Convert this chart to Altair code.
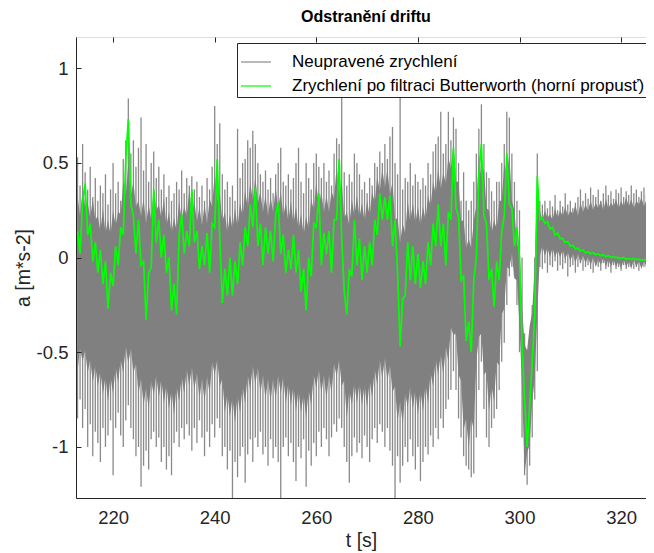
import altair as alt
import pandas as pd

# sample grid: first sample time and step of the half-second series
T0 = 213.0
HALF_STEP = 0.5

# Butterworth high-pass filtered acceleration (green), every 0.5 s from 213.0 s
green = [
    0.14, 0.02, 0.30, 0.39, 0.12, 0.18, -0.02, 0.08, -0.08, 0.04,
    -0.14, -0.02, -0.27, -0.08, -0.15, 0.06, -0.04, 0.16, 0.12, 0.52,
    0.73, 0.28, 0.22, 0.02, 0.20, -0.04, -0.02, -0.33, -0.08, -0.05,
    0.36, 0.08, 0.20, 0.00, 0.12, -0.08, 0.00, -0.28, -0.14, -0.30,
    0.12, 0.23, 0.02, 0.14, 0.06, 0.36, 0.08, 0.14, -0.06, 0.06,
    -0.04, 0.13, -0.08, 0.18, 0.16, 0.52, 0.10, -0.24, -0.06, -0.20,
    0.00, -0.20, -0.02, -0.14, 0.08, -0.04, 0.16, 0.06, 0.28, 0.16,
    0.37, 0.06, 0.18, -0.04, 0.16, 0.02, 0.14, -0.02, 0.22, 0.29,
    0.02, 0.12, -0.08, 0.04, -0.06, 0.12, -0.08, 0.04, -0.18, -0.06,
    -0.28, 0.00, -0.10, 0.18, 0.16, 0.34, -0.04, 0.13, 0.02, 0.14,
    -0.08, 0.20, 0.20, 0.52, 0.10, -0.18, -0.30, -0.06, -0.10, 0.20,
    -0.04, 0.10, -0.12, 0.06, -0.08, 0.08, -0.04, 0.20, 0.12, 0.34,
    0.20, 0.32, 0.20, 0.33, 0.06, 0.20, -0.08, -0.47, -0.22, -0.20,
    0.08, -0.12, 0.06, -0.14, 0.02, -0.16, -0.02, -0.14, 0.08, -0.04,
    0.18, 0.06, 0.28, 0.06, 0.18, -0.04, 0.24, 0.20, 0.58, 0.26,
    0.22, -0.12, -0.10, -0.44, -0.34, -0.50, -0.12, 0.00, 0.44, 0.60,
    0.22, 0.18, -0.12, -0.06, -0.26, -0.02, -0.12, 0.14, 0.22, 0.55,
    0.28, 0.26, 0.06, 0.16, 0.00, -0.45, -0.75, -1.00, -0.78, -0.55,
    -0.30, 0.43, 0.20, 0.21, 0.18, 0.19, 0.15, 0.16, 0.12, 0.13,
    0.10, 0.10, 0.08, 0.085, 0.06, 0.065, 0.045, 0.05, 0.035, 0.04,
    0.025, 0.03, 0.02, 0.025, 0.015, 0.02, 0.01, 0.015, 0.005, 0.01,
    0.0, 0.005, 0.0, 0.0, -0.005, 0.0, -0.01, -0.005, -0.01, -0.005,
    -0.01, -0.01, -0.015, -0.01, -0.015,
]

# raw acceleration: highest and lowest excursion within each 0.5 s
raw_hi = [
    0.53, 0.38, 0.60, 0.45, 0.36, 0.48, 0.32, 0.42, 0.30, 0.38,
    0.34, 0.44, 0.28, 0.36, 0.50, 0.34, 0.40, 0.30, 0.52, 0.62,
    0.84, 0.55, 0.62, 0.48, 0.58, 0.74, 0.46, 0.60, 0.40, 0.50,
    0.56, 0.42, 0.48, 0.36, 0.44, 0.32, 0.38, 0.30, 0.34, 0.40,
    0.36, 0.46, 0.34, 0.42, 0.38, 0.43, 0.36, 0.40, 0.32, 0.38,
    0.30, 0.42, 0.36, 0.48, 0.80, 0.60, 0.71, 0.44, 0.36, 0.40,
    0.32, 0.38, 0.30, 0.68, 0.42, 0.50, 0.52, 0.62, 0.58, 0.67,
    0.60, 0.50, 0.44, 0.40, 0.46, 0.36, 0.42, 0.34, 0.44, 0.50,
    0.58, 0.40, 0.38, 0.44, 0.36, 0.42, 0.50, 0.58, 0.40, 0.34,
    0.50, 0.42, 0.36, 0.50, 0.55, 0.48, 0.42, 0.50, 0.40, 0.46,
    0.38, 0.55, 0.63, 0.60, 1.05, 0.45, 0.38, 0.44, 0.40, 0.55,
    0.50, 0.44, 0.36, 0.40, 0.34, 0.42, 0.38, 0.50, 0.48, 0.56,
    0.50, 0.60, 0.52, 0.64, 0.69, 0.50, 0.44, 1.05, 0.36, 0.42,
    0.40, 0.50, 0.38, 0.44, 0.40, 0.36, 0.42, 0.38, 0.50, 0.44,
    0.56, 0.60, 0.64, 0.77, 0.55, 0.60, 0.77, 0.62, 0.74, 0.68,
    0.50, 0.30, 0.45, 0.30, 0.25, 0.30, 0.40, 0.55, 0.68, 0.81,
    0.60, 0.45, 0.42, 0.35, 0.30, 0.40, 0.40, 0.50, 0.60, 0.77,
    0.74, 0.55, 0.40, 0.30, 0.25, 0.00, -0.40, -0.60, -0.45, -0.25,
    0.00, 0.55, 0.30, 0.28, 0.30, 0.26, 0.30, 0.27, 0.33, 0.25,
    0.30, 0.27, 0.34, 0.28, 0.30, 0.26, 0.29, 0.32, 0.36, 0.30,
    0.34, 0.31, 0.37, 0.33, 0.32, 0.36, 0.30, 0.34, 0.38, 0.33,
    0.35, 0.31, 0.36, 0.34, 0.37, 0.32, 0.35, 0.33, 0.38, 0.34,
    0.36, 0.32, 0.35, 0.37, 0.33,
]
raw_lo = [
    -0.85, -0.75, -0.90, -0.80, -1.00, -0.88, -1.05, -0.92, -0.98, -1.08,
    -0.90, -1.00, -0.94, -0.86, -1.15, -0.90, -0.82, -0.94, -1.00, -0.86,
    -0.78, -0.90, -0.96, -1.05, -1.00, -1.21, -1.10, -1.02, -1.12, -0.96,
    -0.92, -1.00, -0.95, -1.08, -1.00, -1.12, -1.05, -1.15, -0.98, -0.92,
    -1.00, -0.90, -0.96, -0.88, -0.94, -1.02, -0.90, -0.98, -0.86, -0.95,
    -1.05, -0.92, -1.00, -0.88, -0.95, -0.85, -0.90, -1.05, -1.00, -1.12,
    -1.02, -1.30, -1.08, -1.16, -1.05, -1.00, -1.19, -1.04, -0.96, -1.08,
    -0.95, -1.00, -0.92, -1.04, -1.00, -1.10, -0.96, -1.06, -1.00, -1.08,
    -1.30, -1.00, -0.95, -1.05, -0.98, -1.08, -1.18, -1.00, -1.06, -0.96,
    -1.21, -1.02, -1.10, -0.98, -1.05, -0.92, -1.00, -0.90, -0.96, -1.05,
    -0.95, -0.88, -0.92, -0.85, -0.90, -1.00, -1.08, -1.19, -1.05, -0.95,
    -1.03, -0.98, -1.06, -0.94, -1.00, -1.08, -0.96, -0.90, -0.98, -0.88,
    -0.92, -1.00, -0.90, -1.02, -1.10, -1.30, -1.05, -1.19, -1.10, -1.00,
    -1.08, -0.96, -1.05, -1.12, -1.00, -1.18, -1.08, -1.00, -1.04, -0.94,
    -1.00, -0.90, -0.96, -0.85, -0.90, -0.80, -0.75, -0.70, -0.60, -0.70,
    -0.85, -0.95, -1.05, -1.10, -1.12, -1.16, -1.14, -0.95, -0.70, -0.55,
    -0.80, -0.95, -1.00, -0.90, -0.85, -0.80, -0.70, -0.55, -0.45, -0.25,
    -0.10, -0.05, -0.10, -0.25, -0.50, -0.95, -1.15, -1.20, -1.10, -0.95,
    -0.75, -0.60, -0.05, -0.06, -0.03, -0.08, -0.04, -0.05, -0.02, -0.07,
    -0.04, -0.06, -0.03, -0.10, -0.05, -0.04, -0.08, -0.05, -0.03, -0.07,
    -0.05, -0.04, -0.06, -0.08, -0.04, -0.05, -0.07, -0.03, -0.06, -0.05,
    -0.08, -0.04, -0.06, -0.05, -0.07, -0.04, -0.06, -0.05, -0.03, -0.06,
    -0.05, -0.07, -0.04, -0.05, -0.06,
]

# raw acceleration: dense core of the trace, every 0.5 s from 213.0 s
core_hi = [
    0.33, 0.22, 0.36, 0.27, 0.29, 0.21, 0.31, 0.20, 0.22, 0.14,
    0.26, 0.13, 0.20, 0.12, 0.25, 0.17, 0.24, 0.23, 0.40, 0.33,
    0.50, 0.33, 0.40, 0.27, 0.30, 0.22, 0.31, 0.18, 0.28, 0.20,
    0.37, 0.25, 0.28, 0.21, 0.31, 0.17, 0.24, 0.13, 0.21, 0.14,
    0.30, 0.20, 0.27, 0.22, 0.36, 0.23, 0.30, 0.19, 0.27, 0.17,
    0.28, 0.18, 0.31, 0.27, 0.45, 0.30, 0.34, 0.19, 0.24, 0.13,
    0.23, 0.15, 0.26, 0.16, 0.29, 0.22, 0.36, 0.26, 0.40, 0.30,
    0.43, 0.29, 0.35, 0.24, 0.33, 0.22, 0.32, 0.24, 0.37, 0.26,
    0.35, 0.22, 0.29, 0.19, 0.30, 0.18, 0.27, 0.15, 0.23, 0.12,
    0.22, 0.15, 0.31, 0.25, 0.40, 0.27, 0.35, 0.24, 0.33, 0.24,
    0.35, 0.31, 0.48, 0.33, 0.40, 0.21, 0.24, 0.17, 0.31, 0.22,
    0.33, 0.21, 0.29, 0.19, 0.30, 0.22, 0.35, 0.29, 0.43, 0.35,
    0.47, 0.37, 0.47, 0.33, 0.40, 0.20, 0.21, 0.08, 0.18, 0.13,
    0.30, 0.19, 0.29, 0.18, 0.27, 0.17, 0.27, 0.20, 0.33, 0.27,
    0.40, 0.34, 0.47, 0.36, 0.45, 0.39, 0.53, 0.47, 0.60, 0.40,
    0.40, 0.19, 0.20, 0.05, 0.10, 0.05, 0.20, 0.27, 0.55, 0.42,
    0.47, 0.26, 0.25, 0.13, 0.20, 0.15, 0.30, 0.30, 0.50, 0.43,
    0.55, 0.30, 0.25, 0.07, 0.04, -0.25, -0.46, -0.49, -0.36, -0.29,
    -0.03, 0.40, 0.25, 0.20, 0.25, 0.21, 0.23, 0.20, 0.26, 0.21,
    0.25, 0.22, 0.27, 0.22, 0.25, 0.23, 0.28, 0.22, 0.29, 0.24,
    0.28, 0.25, 0.30, 0.25, 0.29, 0.26, 0.30, 0.25, 0.31, 0.26,
    0.29, 0.27, 0.31, 0.26, 0.30, 0.27, 0.32, 0.27, 0.31, 0.26,
    0.30, 0.28, 0.32, 0.27, 0.31,
]
core_lo = [
    -0.60, -0.48, -0.55, -0.49, -0.61, -0.54, -0.66, -0.57, -0.68, -0.60,
    -0.72, -0.63, -0.76, -0.63, -0.72, -0.58, -0.66, -0.54, -0.61, -0.47,
    -0.56, -0.48, -0.61, -0.56, -0.72, -0.64, -0.78, -0.69, -0.80, -0.65,
    -0.73, -0.62, -0.74, -0.64, -0.77, -0.67, -0.80, -0.70, -0.83, -0.68,
    -0.76, -0.63, -0.72, -0.59, -0.68, -0.58, -0.70, -0.61, -0.75, -0.64,
    -0.76, -0.63, -0.72, -0.55, -0.62, -0.54, -0.68, -0.64, -0.82, -0.72,
    -0.84, -0.74, -0.87, -0.73, -0.82, -0.68, -0.77, -0.62, -0.70, -0.57,
    -0.67, -0.58, -0.72, -0.62, -0.75, -0.64, -0.76, -0.64, -0.75, -0.62,
    -0.72, -0.63, -0.77, -0.66, -0.78, -0.68, -0.81, -0.70, -0.82, -0.72,
    -0.85, -0.70, -0.78, -0.62, -0.69, -0.59, -0.72, -0.62, -0.75, -0.62,
    -0.72, -0.56, -0.63, -0.54, -0.68, -0.65, -0.85, -0.70, -0.78, -0.66,
    -0.77, -0.66, -0.78, -0.67, -0.79, -0.65, -0.74, -0.59, -0.67, -0.54,
    -0.64, -0.53, -0.65, -0.57, -0.71, -0.68, -0.87, -0.76, -0.88, -0.72,
    -0.79, -0.68, -0.80, -0.70, -0.83, -0.70, -0.81, -0.67, -0.77, -0.61,
    -0.68, -0.54, -0.62, -0.51, -0.62, -0.47, -0.55, -0.37, -0.41, -0.40,
    -0.62, -0.65, -0.91, -0.85, -1.01, -0.85, -0.91, -0.55, -0.42, -0.40,
    -0.62, -0.60, -0.81, -0.68, -0.76, -0.55, -0.57, -0.30, -0.27, -0.05,
    -0.06, 0.02, -0.11, -0.12, -0.36, -0.68, -1.14, -1.03, -0.99, -0.76,
    -0.64, -0.30, 0.01, 0.06, 0.01, 0.05, 0.00, 0.05, 0.00, 0.04,
    0.00, 0.04, -0.01, 0.03, -0.02, 0.02, -0.03, 0.02, -0.03, 0.01,
    -0.03, 0.00, -0.04, 0.00, -0.05, -0.01, -0.04, 0.00, -0.05, -0.01,
    -0.05, -0.01, -0.05, -0.02, -0.06, -0.01, -0.05, -0.02, -0.06, -0.01,
    -0.05, -0.02, -0.06, -0.02, -0.05,
]

x_ticks = [220, 240, 260, 280, 300, 320]
y_ticks = [-1, -0.5, 0, 0.5, 1]
x_domain = [212.7, 324.9]
y_domain = [-1.27, 1.165]

RAW = "Neupravené zrychlení"
FILT = "Zrychlení po filtraci Butterworth (horní propusť)"
RAW_COLOR = "#8a8a8a"
FILT_COLOR = "#00ff00"

t_half = [T0 + HALF_STEP * i for i in range(len(green))]

raw_df = pd.DataFrame({"t": t_half, "lo": raw_lo, "hi": raw_hi, "s": RAW})
core_df = pd.DataFrame({"t": t_half, "lo": core_lo, "hi": core_hi})
filt_df = pd.DataFrame({"t": t_half, "a": green, "s": FILT})

FONT = "Liberation Sans"
INK = "#262626"

xscale = alt.Scale(domain=x_domain, nice=False, zero=False)
yscale = alt.Scale(domain=y_domain, nice=False, zero=False)

x_axis = alt.Axis(
    values=x_ticks, title="t [s]", labelExpr="datum.value + ''",
    grid=True, gridDash=[5, 3000], gridColor=INK, gridOpacity=1, gridWidth=1,
    tickSize=0, domainColor=INK, labelColor=INK, titleColor=INK,
    labelFont=FONT, titleFont=FONT, labelFontSize=18.5, titleFontSize=19.5,
    titleFontWeight="normal", labelPadding=10, titlePadding=5, zindex=1,
)
y_axis = alt.Axis(
    values=y_ticks, title="a [m*s-2]", labelExpr="datum.value + ''",
    grid=True, gridDash=[5, 3000], gridColor=INK, gridOpacity=1, gridWidth=1,
    tickSize=0, domainColor=INK, labelColor=INK, titleColor=INK,
    labelFont=FONT, titleFont=FONT, labelFontSize=18.5, titleFontSize=19.5,
    titleFontWeight="normal", labelPadding=8, titlePadding=3, zindex=1,
)

color = alt.Color(
    "s:N",
    scale=alt.Scale(domain=[RAW, FILT], range=[RAW_COLOR, FILT_COLOR]),
    legend=alt.Legend(
        title=None, orient="none", legendX=161, legendY=6,
        symbolType="stroke", symbolSize=900, symbolStrokeWidth=1.2,
        labelOffset=20, labelFont=FONT, labelFontSize=17, labelColor="#000000",
        labelLimit=0, fillColor="white", strokeColor=INK, padding=3,
        rowPadding=-3.5, cornerRadius=0,
    ),
)

raw_spikes = alt.Chart(raw_df).mark_rule(strokeWidth=1.3, clip=True).encode(
    x=alt.X("t:Q", scale=xscale, axis=x_axis),
    y=alt.Y("lo:Q", scale=yscale, axis=y_axis),
    y2="hi:Q",
    color=color,
)
raw_core = alt.Chart(core_df).mark_area(color="#808080", clip=True).encode(
    x=alt.X("t:Q", scale=xscale),
    y=alt.Y("lo:Q", scale=yscale),
    y2="hi:Q",
)
filt_line = alt.Chart(filt_df).mark_line(strokeWidth=1.7, clip=True).encode(
    x=alt.X("t:Q", scale=xscale),
    y=alt.Y("a:Q", scale=yscale),
    color=color,
)

chart = alt.layer(raw_spikes, raw_core, filt_line).properties(
    width=570, height=461,
    padding={"left": 68, "top": 29, "right": 0, "bottom": 54},
    autosize=alt.AutoSizeParams(type="none"),
    title=alt.TitleParams(
        "Odstranění driftu", font=FONT, fontSize=16, fontWeight="bold",
        color="#000000", anchor="middle", offset=12, dx=5,
    ),
).configure_view(stroke=None).configure(background="white")

chart.save("out.html", embed_options={"renderer": "svg", "actions": False})
